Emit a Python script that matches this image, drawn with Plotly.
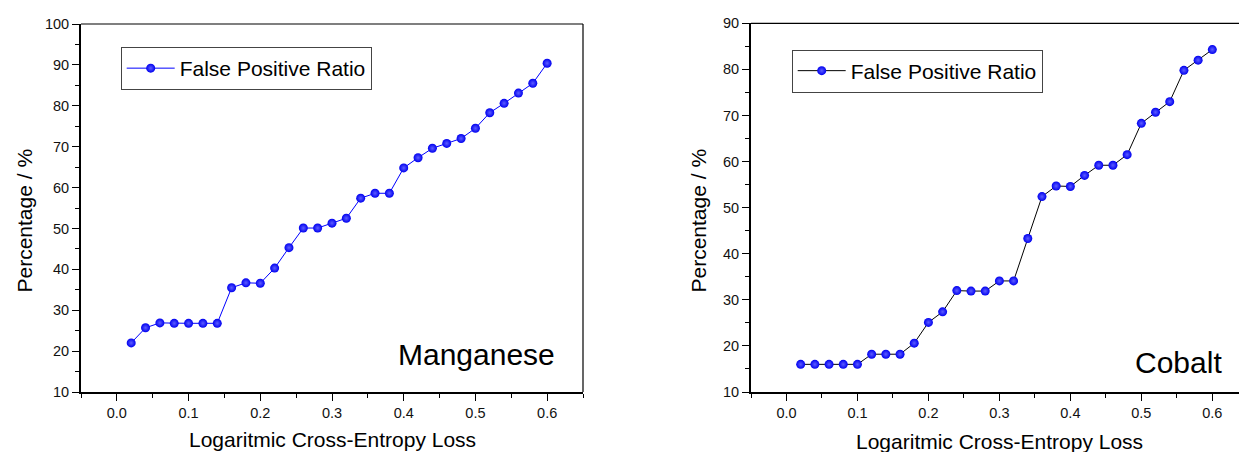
import plotly.graph_objects as go

# ---------------- data ----------------
loss = [0.02, 0.04, 0.06, 0.08, 0.10, 0.12, 0.14, 0.16, 0.18, 0.20,
        0.22, 0.24, 0.26, 0.28, 0.30, 0.32, 0.34, 0.36, 0.38, 0.40,
        0.42, 0.44, 0.46, 0.48, 0.50, 0.52, 0.54, 0.56, 0.58, 0.60]

manganese_fpr = [22.0, 25.7, 26.9, 26.8, 26.8, 26.8, 26.8, 35.5, 36.7, 36.6,
                 40.3, 45.3, 50.1, 50.1, 51.3, 52.5, 57.4, 58.6, 58.6, 64.8,
                 67.3, 69.6, 70.8, 72.0, 74.5, 78.3, 80.6, 83.1, 85.5, 90.4]

cobalt_fpr = [16.0, 16.0, 16.0, 16.0, 16.0, 18.2, 18.2, 18.2, 20.6, 25.1,
              27.4, 32.0, 31.9, 31.9, 34.1, 34.1, 43.3, 52.4, 54.7, 54.6,
              57.0, 59.2, 59.2, 61.5, 68.3, 70.7, 73.0, 79.8, 82.0, 84.3]

x_tick_vals = [0.0, 0.1, 0.2, 0.3, 0.4, 0.5, 0.6]
left_y_ticks = [10, 20, 30, 40, 50, 60, 70, 80, 90, 100]
right_y_ticks = [10, 20, 30, 40, 50, 60, 70, 80, 90]

series_name = "False Positive Ratio"
x_title = "Logaritmic Cross-Entropy Loss"
y_title = "Percentage / %"
left_label = "Manganese"
right_label = "Cobalt"

# ---------------- layout geometry ----------------
W, H = 1239, 452
FONT = "Arial, 'Liberation Sans', sans-serif"


def px_x(p):
    return p / W


def px_y(p):
    return (H - p) / H


marker_style = dict(size=9, color="#0000f0",
                    gradient=dict(type="radial", color="#5c5cff"),
                    line=dict(width=0))

fig = go.Figure()
fig.add_trace(go.Scatter(
    x=loss, y=manganese_fpr, mode="lines+markers", name=series_name,
    line=dict(color="#0000ff", width=1), marker=marker_style,
    xaxis="x", yaxis="y", legend="legend"))
fig.add_trace(go.Scatter(
    x=loss, y=cobalt_fpr, mode="lines+markers", name=series_name,
    line=dict(color="#000000", width=1), marker=marker_style,
    xaxis="x2", yaxis="y2", legend="legend2"))

axis_common = dict(showgrid=False, zeroline=False, showline=True,
                   automargin=False,
                   linecolor="black", linewidth=2, ticks="outside",
                   ticklen=7, tickwidth=1, tickcolor="black",
                   tickfont=dict(family=FONT, size=14.5, color="#111"),
                   mirror=False)

xa = dict(axis_common, range=[-0.05, 0.65], tickvals=x_tick_vals,
          tickformat=".1f",
          minor=dict(dtick=0.05, tick0=0, ticks="outside", ticklen=4,
                     tickcolor="black", tickwidth=1))
ya = dict(axis_common, range=[10, 100], tickvals=left_y_ticks,
          minor=dict(dtick=5, tick0=0, ticks="outside", ticklen=4,
                     tickcolor="black", tickwidth=1))

xa2 = dict(xa, range=[-0.05, 0.6376])
ya2 = dict(ya, range=[10, 90], tickvals=right_y_ticks)

fig.update_layout(
    template="none",
    width=W, height=H,
    margin=dict(l=0, r=0, t=0, b=0, autoexpand=False),
    paper_bgcolor="white", plot_bgcolor="white",
    font=dict(family=FONT, color="black"),
    xaxis=dict(xa, domain=[px_x(81), px_x(583)], anchor="y"),
    yaxis=dict(ya, domain=[px_y(392), px_y(24)], anchor="x"),
    xaxis2=dict(xa2, domain=[px_x(751), 1.0], anchor="y2"),
    yaxis2=dict(ya2, domain=[px_y(392), px_y(23.3)], anchor="x2"),
    legend=dict(x=px_x(120.7), y=px_y(47), xanchor="left", yanchor="top",
                bgcolor="white", bordercolor="#444", borderwidth=1,
                font=dict(family=FONT, size=21, color="black"),
                itemwidth=48, tracegroupgap=0),
    legend2=dict(x=px_x(791.7), y=px_y(49.5), xanchor="left", yanchor="top",
                 bgcolor="white", bordercolor="#444", borderwidth=1,
                 font=dict(family=FONT, size=21, color="black"),
                 itemwidth=48, tracegroupgap=0),
    showlegend=True,
)

# thin top / right frame lines
for xr, yr, right in (("x domain", "y domain", True), ("x2 domain", "y2 domain", False)):
    fig.add_shape(type="line", xref=xr, yref=yr, x0=0, x1=1, y0=1, y1=1,
                  line=dict(color="black", width=1.2))
    if right:
        fig.add_shape(type="line", xref=xr, yref=yr, x0=1, x1=1, y0=0, y1=1,
                      line=dict(color="black", width=1.2))

title_font = dict(family=FONT, size=21, color="black")
# axis titles
fig.add_annotation(text=x_title, xref="paper", yref="paper",
                   x=px_x(332), y=px_y(439), xanchor="center", yanchor="middle",
                   showarrow=False, font=title_font)
fig.add_annotation(text=x_title, xref="paper", yref="paper",
                   x=px_x(999), y=px_y(441), xanchor="center", yanchor="middle",
                   showarrow=False, font=title_font)
fig.add_annotation(text=y_title, xref="paper", yref="paper",
                   x=px_x(24), y=px_y(220.5), xanchor="center", yanchor="middle",
                   textangle=-90, showarrow=False, font=title_font)
fig.add_annotation(text=y_title, xref="paper", yref="paper",
                   x=px_x(698), y=px_y(220.5), xanchor="center", yanchor="middle",
                   textangle=-90, showarrow=False, font=title_font)
# panel labels
label_font = dict(family=FONT, size=30, color="black")
fig.add_annotation(text=left_label, xref="paper", yref="paper",
                   x=px_x(557), y=px_y(354), xanchor="right", yanchor="middle",
                   showarrow=False, font=label_font)
fig.add_annotation(text=right_label, xref="paper", yref="paper",
                   x=px_x(1224), y=px_y(362), xanchor="right", yanchor="middle",
                   showarrow=False, font=label_font)

fig.write_html("out.html", config={"displayModeBar": False},
               post_script="document.body.style.margin='0';"
                           "document.body.style.overflow='hidden';")
